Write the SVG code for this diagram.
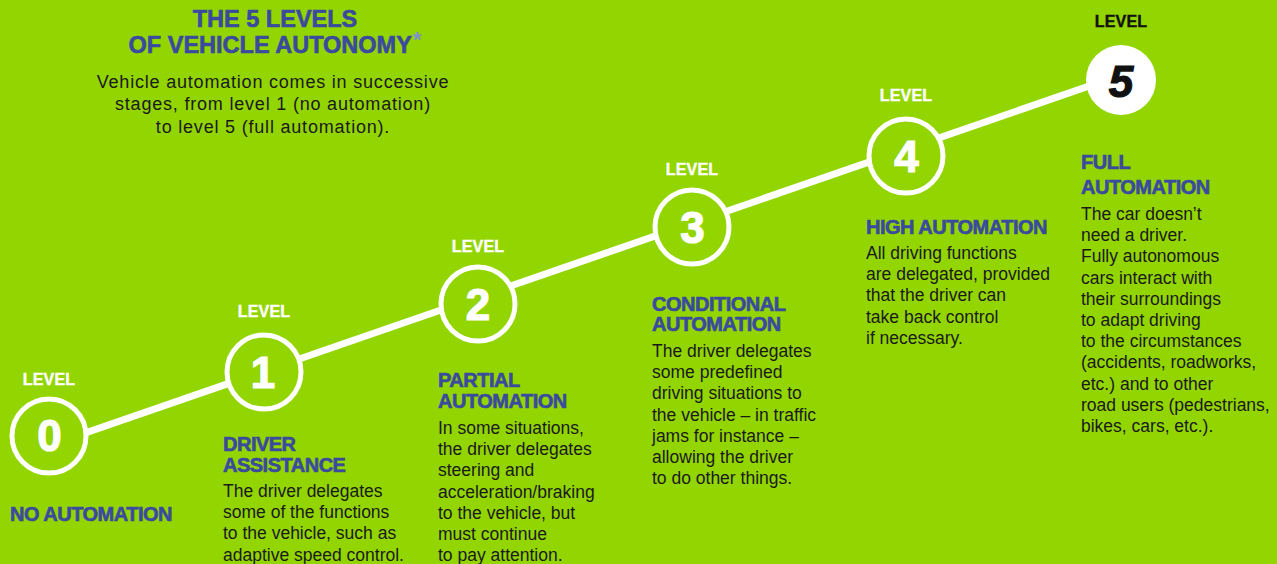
<svg xmlns="http://www.w3.org/2000/svg" width="1277" height="564" viewBox="0 0 1277 564">
<style>
.bg{fill:#93d500}
.ring{fill:#93d500;stroke:#fff;stroke-width:5}
.lvl{font-family:"Liberation Sans",Arial,sans-serif;font-weight:bold;font-size:16px;fill:#fff;text-anchor:middle;letter-spacing:0.2px;stroke:#fff;stroke-width:0.4}
.dig{font-family:"Liberation Sans",Arial,sans-serif;font-weight:bold;font-size:44px;fill:#fff;text-anchor:middle;stroke:#fff;stroke-width:1.2}
.hd{font-family:"Liberation Sans",Arial,sans-serif;font-weight:bold;font-size:20px;fill:#3a4a9e;letter-spacing:-0.5px;stroke:#3a4a9e;stroke-width:0.6}
.bd{font-family:"Liberation Sans",Arial,sans-serif;font-size:17.5px;fill:#1a1a1a}
.title{font-family:"Liberation Sans",Arial,sans-serif;font-weight:bold;font-size:23.5px;fill:#3a4a9e;text-anchor:middle;stroke:#3a4a9e;stroke-width:0.6}
.sub{font-family:"Liberation Sans",Arial,sans-serif;font-size:18px;fill:#1a1a1a;text-anchor:middle;letter-spacing:0.8px}
.road{stroke:#fff;stroke-width:7;fill:none}
</style>
<rect class="bg" x="0" y="0" width="1277" height="564"/>

<g id="title">
<text class="title" x="275" y="27">THE 5 LEVELS</text>
<text class="title" x="275" y="53">OF VEHICLE AUTONOMY<tspan font-size="22" fill="#7f8fd0" stroke="none" dx="1" dy="-6">*</tspan></text>
<text class="sub" x="273" y="87.5">Vehicle automation comes in successive</text>
<text class="sub" x="273" y="110">stages, from level 1 (no automation)</text>
<text class="sub" x="273" y="132.5">to level 5 (full automation).</text>
</g>

<g id="connectors">
<line class="road" x1="49" y1="445.5" x2="1121" y2="75"/>
</g>

<g id="level0">
<circle class="ring" cx="49" cy="436" r="37"/>
<text class="lvl" x="49" y="385">LEVEL</text>
<text class="dig" x="49.5" y="451" font-size="40">0</text>
<text class="hd" x="10" y="521">NO AUTOMATION</text>
</g>

<g id="level1">
<circle class="ring" cx="264" cy="372" r="37"/>
<text class="lvl" x="264" y="317">LEVEL</text>
<text class="dig" x="263" y="388">1</text>
<text class="hd" x="223" y="451">DRIVER</text>
<text class="hd" x="223" y="472">ASSISTANCE</text>
<text class="bd" x="223" y="497"><tspan x="223">The driver delegates</tspan><tspan x="223" dy="21.2">some of the functions</tspan><tspan x="223" dy="21.2">to the vehicle, such as</tspan><tspan x="223" dy="21.2">adaptive speed control.</tspan></text>
</g>

<g id="level2">
<circle class="ring" cx="478" cy="304" r="37"/>
<text class="lvl" x="478" y="252">LEVEL</text>
<text class="dig" x="478" y="320">2</text>
<text class="hd" x="438" y="387">PARTIAL</text>
<text class="hd" x="438" y="408">AUTOMATION</text>
<text class="bd" x="438" y="434"><tspan x="438">In some situations,</tspan><tspan x="438" dy="21.2">the driver delegates</tspan><tspan x="438" dy="21.2">steering and</tspan><tspan x="438" dy="21.2">acceleration/braking</tspan><tspan x="438" dy="21.2">to the vehicle, but</tspan><tspan x="438" dy="21.2">must continue</tspan><tspan x="438" dy="21.2">to pay attention.</tspan></text>
</g>

<g id="level3">
<circle class="ring" cx="692" cy="227" r="37"/>
<text class="lvl" x="692" y="175">LEVEL</text>
<text class="dig" x="692.5" y="243">3</text>
<text class="hd" x="652" y="311">CONDITIONAL</text>
<text class="hd" x="652" y="331">AUTOMATION</text>
<text class="bd" x="652" y="357"><tspan x="652">The driver delegates</tspan><tspan x="652" dy="21.2">some predefined</tspan><tspan x="652" dy="21.2">driving situations to</tspan><tspan x="652" dy="21.2">the vehicle – in traffic</tspan><tspan x="652" dy="21.2">jams for instance –</tspan><tspan x="652" dy="21.2">allowing the driver</tspan><tspan x="652" dy="21.2">to do other things.</tspan></text>
</g>

<g id="level4">
<circle class="ring" cx="906" cy="156" r="37"/>
<text class="lvl" x="906" y="101">LEVEL</text>
<text class="dig" x="906.5" y="172">4</text>
<text class="hd" x="866" y="234">HIGH AUTOMATION</text>
<text class="bd" x="866" y="259"><tspan x="866">All driving functions</tspan><tspan x="866" dy="21.2">are delegated, provided</tspan><tspan x="866" dy="21.2">that the driver can</tspan><tspan x="866" dy="21.2">take back control</tspan><tspan x="866" dy="21.2">if necessary.</tspan></text>
</g>

<g id="level5">
<circle cx="1121" cy="80" r="35" fill="#fff"/>
<text class="lvl" x="1121" y="27" style="fill:#111;stroke:#111">LEVEL</text>
<text class="dig" x="1121" y="97" font-style="italic" style="fill:#111;stroke:#111">5</text>
<text class="hd" x="1081" y="169">FULL</text>
<text class="hd" x="1081" y="194">AUTOMATION</text>
<text class="bd" x="1081" y="220"><tspan x="1081">The car doesn’t</tspan><tspan x="1081" dy="21.2">need a driver.</tspan><tspan x="1081" dy="21.2">Fully autonomous</tspan><tspan x="1081" dy="21.2">cars interact with</tspan><tspan x="1081" dy="21.2">their surroundings</tspan><tspan x="1081" dy="21.2">to adapt driving</tspan><tspan x="1081" dy="21.2">to the circumstances</tspan><tspan x="1081" dy="21.2">(accidents, roadworks,</tspan><tspan x="1081" dy="21.2">etc.) and to other</tspan><tspan x="1081" dy="21.2">road users (pedestrians,</tspan><tspan x="1081" dy="21.2">bikes, cars, etc.).</tspan></text>
</g>
</svg>
